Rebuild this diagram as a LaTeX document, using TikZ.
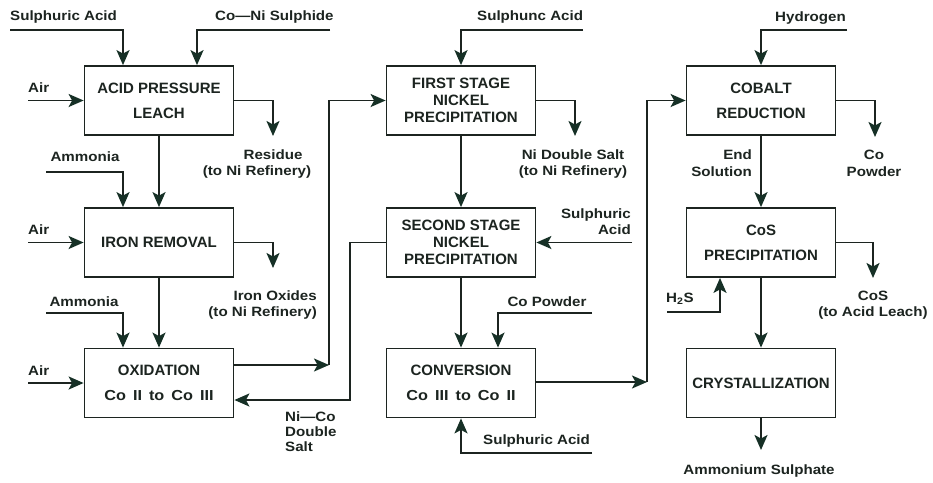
\documentclass[tikz,border=0pt]{standalone}
\usepackage{fontspec}
\setmainfont{Liberation Sans}[BoldFont={Liberation Sans Bold}]
\newfontfamily\labfont[FakeStretch=1.12]{Liberation Sans}
\newfontfamily\boxfont{Liberation Sans}
\newcommand{\wsp}{\hspace{7pt}}
\usetikzlibrary{arrows.meta}
\definecolor{ink}{RGB}{28,36,32}
\definecolor{headc}{RGB}{22,48,38}
\begin{document}
\begin{tikzpicture}[x=1pt,y=-1pt,
  proc/.style={draw=ink, line width=1.8pt, minimum width=149pt, minimum height=69pt,
    align=center, inner sep=0pt, text=ink, font=\boxfont\bfseries\fontsize{15}{17}\selectfont},
  lab/.style={font=\labfont\bfseries\fontsize{13.5}{15}\selectfont, inner sep=0pt, text=ink},
  mix/.style={font=\labfont\bfseries\fontsize{14.5}{17}\selectfont},
  flow/.style={draw=ink, line width=1.8pt,
    -{Stealth[length=15pt,width=13pt,inset=3.5pt,fill=headc,color=headc]}},
]
\useasboundingbox (0,0) rectangle (933,482);
\fill[white] (0,0) rectangle (933,482);

% process boxes
\node[proc] (apl) at (159,100.5) {ACID PRESSURE\\[8pt]LEACH};
\node[proc] (ir)  at (159,242.5) {IRON REMOVAL};
\node[proc] (ox)  at (159,383)   {OXIDATION\\[8pt]{\labfont\bfseries\fontsize{14.5}{17}\selectfont Co\wsp II\wsp to\wsp Co\wsp III}};
\node[proc] (fs)  at (461,100.5) {FIRST STAGE\\NICKEL\\PRECIPITATION};
\node[proc] (ss)  at (461,242.5) {SECOND STAGE\\NICKEL\\PRECIPITATION};
\node[proc] (cv)  at (461,383)   {CONVERSION\\[8pt]{\labfont\bfseries\fontsize{14.5}{17}\selectfont Co\wsp III\wsp to\wsp Co\wsp II}};
\node[proc] (cr)  at (761,100.5) {COBALT\\[8pt]REDUCTION};
\node[proc] (cos) at (761,242.5) {CoS\\[8pt]PRECIPITATION};
\node[proc] (cry) at (761,383)   {CRYSTALLIZATION};

% free ends
\coordinate (sa1) at (10,30);
\coordinate (cns) at (330,30);
\coordinate (air1) at (28,100.5);
\coordinate (air2) at (28,242.5);
\coordinate (air3) at (28,383);
\coordinate (res) at (273,136);
\coordinate (am1) at (46,172);
\coordinate (io) at (273,268);
\coordinate (am2) at (46,313);
\coordinate (c1) at (329,365);
\coordinate (c2) at (350,400);
\coordinate (sa2) at (583,30);
\coordinate (nds) at (575,136);
\coordinate (sa3) at (632,242.5);
\coordinate (cop1) at (592,313);
\coordinate (sa4) at (592,453);
\coordinate (c3) at (647,382);
\coordinate (hy) at (847,30);
\coordinate (cop2) at (875,137);
\coordinate (h2s) at (667,312);
\coordinate (cso) at (873,278);
\coordinate (ams) at (761,450);

% labels
\node[lab, anchor=west] (tsa1) at (10,17) {Sulphuric Acid};
\node[lab, anchor=west] (tcns) at (215,17) {Co—Ni Sulphide};
\node[lab, anchor=west] (tair1) at (28,88) {Air};
\node[lab, anchor=west] (tair2) at (28,230) {Air};
\node[lab, anchor=west] (tair3) at (28,371) {Air};
\node[lab] (tres1) at (273,155) {Residue};
\node[lab] (tres2) at (257,172) {(to Ni Refinery)};
\node[lab] (tam1) at (85,157) {Ammonia};
\node[lab, anchor=east] (tio1) at (317,296) {Iron Oxides};
\node[lab, anchor=east] (tio2) at (317,313) {(to Ni Refinery)};
\node[lab] (tam2) at (84,302) {Ammonia};
\node[lab, anchor=west] (tnc1) at (285,417) {Ni—Co};
\node[lab, anchor=west] (tnc2) at (285,432) {Double};
\node[lab, anchor=west] (tnc3) at (285,447) {Salt};
\node[lab, anchor=west] (tsa2) at (477,17) {Sulphunc Acid};
\node[lab] (tnd1) at (573,155) {Ni Double Salt};
\node[lab] (tnd2) at (573,172) {(to Ni Refinery)};
\node[lab, anchor=east] (tsa3a) at (631,215) {Sulphuric};
\node[lab, anchor=east] (tsa3b) at (631,230) {Acid};
\node[lab] (tcop1) at (547,302) {Co Powder};
\node[lab, anchor=west] (tsa4) at (483,441) {Sulphuric Acid};
\node[lab, anchor=west] (thy) at (775,18) {Hydrogen};
\node[lab] (tcop2a) at (874,155) {Co};
\node[lab] (tcop2b) at (874,172) {Powder};
\node[lab, anchor=east] (tes1) at (752,155) {End};
\node[lab, anchor=east] (tes2) at (752,172) {Solution};
\node[lab, anchor=west] (th2s) at (666,299) {H\textsubscript{2}S};
\node[lab] (tcs1) at (873,296) {CoS};
\node[lab] (tcs2) at (873,313) {(to Acid Leach)};
\node[lab] (tams) at (759,471) {Ammonium Sulphate};

% left column flows
\draw[flow] (sa1) -| ([xshift=-36pt]apl.north);
\draw[flow] (cns) -| ([xshift=38pt]apl.north);
\draw[flow] (air1) -- (apl.west);
\draw[flow] (apl.east) -| (res);
\draw[flow] (am1) -| ([xshift=-36pt]ir.north);
\draw[flow] (apl.south) -- (ir.north);
\draw[flow] (air2) -- (ir.west);
\draw[flow] (ir.east) -| (io);
\draw[flow] (am2) -| ([xshift=-36pt]ox.north);
\draw[flow] (ir.south) -- (ox.north);
\draw[flow] (air3) -- (ox.west);
\draw[flow] (ox.east |- c1) -- (c1);
\draw[flow] (c1) |- (fs.west);
\draw[flow] (ss.west) -| (c2) -- (c2 -| ox.east);

% middle column flows
\draw[flow] (sa2) -| (fs.north);
\draw[flow] (fs.east) -| (nds);
\draw[flow] (fs.south) -- (ss.north);
\draw[flow] (sa3) -- (ss.east);
\draw[flow] (ss.south) -- (cv.north);
\draw[flow] (cop1) -| ([xshift=37pt]cv.north);
\draw[flow] (sa4) -| (cv.south);
\draw[flow] (cv.east |- c3) -- (c3);
\draw[flow] (c3) |- (cr.west);

% right column flows
\draw[flow] (hy) -| (cr.north);
\draw[flow] (cr.east) -| (cop2);
\draw[flow] (cr.south) -- (cos.north);
\draw[flow] (h2s) -| ([xshift=-41pt]cos.south);
\draw[flow] (cos.east) -| (cso);
\draw[flow] (cos.south) -- (cry.north);
\draw[flow] (cry.south) -- (ams);
\end{tikzpicture}
\end{document}
